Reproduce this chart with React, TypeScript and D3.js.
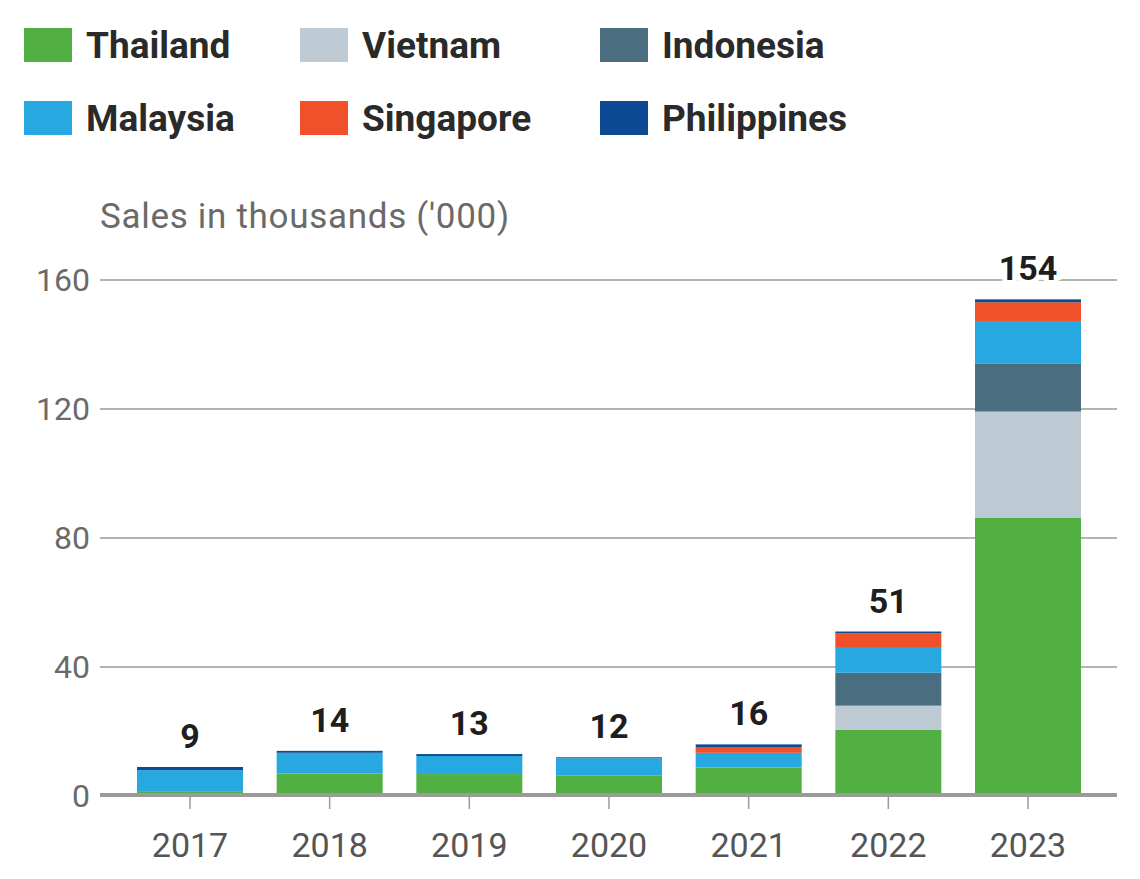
import React from "react";
import * as d3 from "d3";

const years = ["2017", "2018", "2019", "2020", "2021", "2022", "2023"];
const countries = ["Thailand", "Vietnam", "Indonesia", "Malaysia", "Singapore", "Philippines"];
const colors = ["#52b043", "#bdcad4", "#4a6e80", "#27a8e0", "#f0502a", "#0d4a94"];
const thailand = [1.5, 7.0, 6.8, 6.4, 8.8, 20.6, 86.2];
const vietnam = [0, 0, 0, 0, 0, 7.4, 33.0];
const indonesia = [0, 0, 0, 0, 0, 10.2, 14.8];
const malaysia = [6.5, 6.4, 5.6, 5.3, 4.6, 8.0, 13.3];
const singapore = [0, 0, 0, 0, 1.8, 4.3, 5.8];
const philippines = [1.0, 0.6, 0.6, 0.3, 0.8, 0.5, 0.9];
const totals = [9, 14, 13, 12, 16, 51, 154];
const yTicks = [0, 40, 80, 120, 160];

const seriesValues = [thailand, vietnam, indonesia, malaysia, singapore, philippines];

export default function App() {
  const W = 1140, H = 879;
  const x = d3.scaleBand().domain(years).range([137, 1081]).paddingInner(0.241).paddingOuter(0);
  const y = d3.scaleLinear().domain([0, 160]).range([796, 280]);
  const rows = years.map((yr, i) => {
    const r: any = { year: yr };
    countries.forEach((c, k) => (r[c] = seriesValues[k][i]));
    return r;
  });
  const stacked = d3.stack().keys(countries)(rows);
  const font = "Roboto, 'Noto Sans', sans-serif";
  const legendPos = [
    [24, 28], [300, 28], [600, 28],
    [24, 101], [300, 101], [600, 101],
  ];
  const legendOrder = ["Thailand", "Vietnam", "Indonesia", "Malaysia", "Singapore", "Philippines"];
  return (
    <svg width={W} height={H} style={{ position: "absolute", left: 0, top: 0, background: "#fff" }}>
      {legendOrder.map((c, i) => {
        const [lx, ly] = legendPos[i];
        const col = colors[countries.indexOf(c)];
        return (
          <g key={c}>
            <rect x={lx} y={ly} width={48} height={34} fill={col} />
            <text x={lx + 62} y={ly + 30} fontFamily={font} fontWeight={700} fontSize={37}
              fill="#2a2a2a">{c}</text>
          </g>
        );
      })}
      <text x={100} y={228} fontFamily={font} fontSize={35} letterSpacing={0.7} fill="#6a6a6a">Sales in thousands ('000)</text>
      {yTicks.map((t) => (
        <g key={t}>
          {t !== 0 && <line x1={100} x2={1117} y1={y(t)} y2={y(t)} stroke="#9a9a9a" strokeWidth={1.3} />}
          <text x={90} y={y(t) + 11} textAnchor="end" fontFamily={font} fontSize={32} fill="#6a6a6a">{t}</text>
        </g>
      ))}
      {stacked.map((s, k) => (
        <g key={countries[k]} fill={colors[k]}>
          {s.map((d, i) => (
            <rect key={i} x={x(years[i])} y={y(d[1])} width={x.bandwidth()} height={Math.max(0, y(d[0]) - y(d[1]))} />
          ))}
        </g>
      ))}
      <line x1={100} x2={1117} y1={795} y2={795} stroke="#9a9a9a" strokeWidth={4} />
      {years.map((yr, i) => {
        const cx = (x(yr) as number) + x.bandwidth() / 2;
        return (
          <g key={yr}>
            <line x1={cx} x2={cx} y1={797} y2={809} stroke="#9a9a9a" strokeWidth={1.5} />
            <text x={cx} y={857} textAnchor="middle" fontFamily={font} fontSize={34} fill="#555">{yr}</text>
            <text x={cx} y={y(totals[i]) - 19} textAnchor="middle" fontFamily={font} fontWeight={700}
              fontSize={34} fill="#1e1e1e" stroke="#fff" strokeWidth={10} style={{ paintOrder: "stroke" }}>{totals[i]}</text>
          </g>
        );
      })}
    </svg>
  );
}
